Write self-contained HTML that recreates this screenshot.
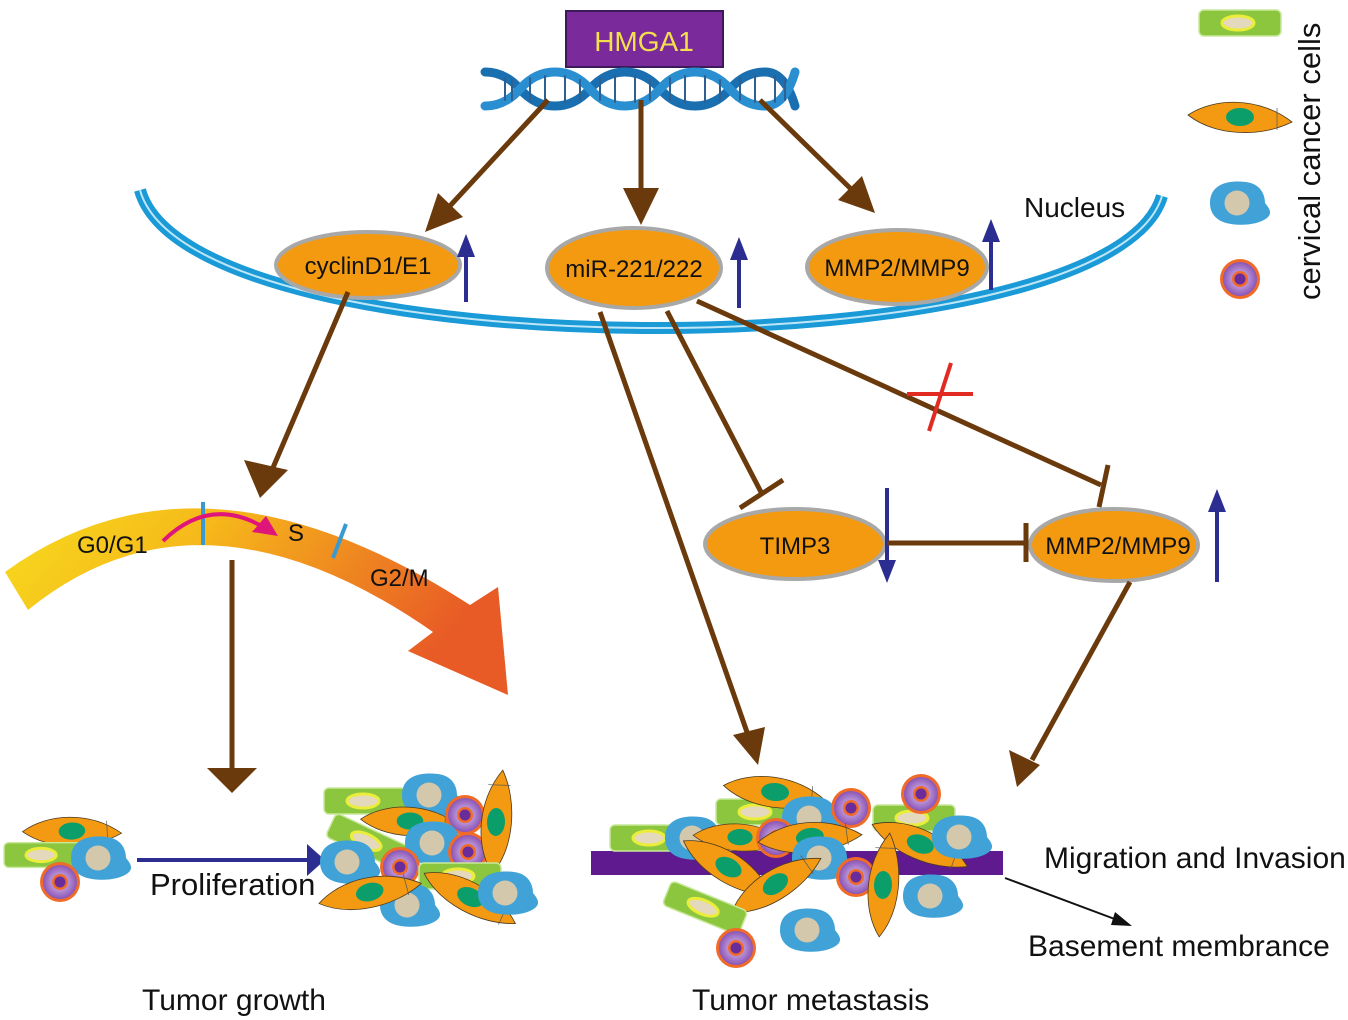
<!DOCTYPE html>
<html><head><meta charset="utf-8"><style>
html,body{margin:0;padding:0;background:#fff;}
svg{display:block;}
text{font-family:"Liberation Sans",Arial,sans-serif;}
</style></head><body>
<svg width="1348" height="1020" viewBox="0 0 1348 1020" xmlns="http://www.w3.org/2000/svg">
<defs>
<linearGradient id="cyc" x1="0" y1="0" x2="1" y2="0.3">
<stop offset="0" stop-color="#f7dc1e"/><stop offset="0.4" stop-color="#f6b81a"/><stop offset="1" stop-color="#e85a26"/>
</linearGradient>
<radialGradient id="pg"><stop offset="0.3" stop-color="#c9a6e0"/><stop offset="1" stop-color="#8a55b6"/></radialGradient>
<g id="gr"><rect x="-41" y="-13" width="82" height="26" rx="5" fill="#8cc63f" stroke="#c8e89a" stroke-width="1.5"/><ellipse cx="-2" cy="0" rx="16" ry="7" fill="#e4d9bd" stroke="#eaee3a" stroke-width="3"/></g>
<g id="sp"><path d="M-52,-3 C-25,-21 20,-21 52,4 C20,20 -25,18 -52,-3 Z" fill="#f39a12" stroke="#4a3a20" stroke-width="0.8"/><ellipse cx="0" cy="-1" rx="14" ry="9" fill="#0c9e6a"/><line x1="37" y1="-10" x2="37" y2="12" stroke="#555" stroke-width="0.7"/></g>
<g id="bl"><path d="M-30,0 C-30,-20 -10,-23 6,-21 C21,-19 25,-8 25,0 C29,5 33,10 27,15 C19,21 5,23 -9,21 C-23,19 -30,11 -30,0 Z" fill="#40a2d6"/><circle cx="-3" cy="0" r="12.5" fill="#d4c8ac"/></g>
<g id="pu"><circle r="20" fill="#f06a28"/><circle r="17" fill="url(#pg)"/><circle r="8" fill="#f06a28"/><circle r="5.5" fill="#6a2c9a"/></g>
</defs>

<!-- HMGA1 -->
<rect x="566" y="11" width="157" height="56" fill="#7b2a9b" stroke="#3c1a5a" stroke-width="2"/>
<text x="644" y="51" font-size="28" fill="#f3e04c" text-anchor="middle">HMGA1</text>

<!-- DNA -->
<g fill="none" stroke-linecap="round">
<path d="M485,72 Q505,72 520,89 T555,106 T590,89 T625,72 T660,89 T695,106 T730,89 T765,72 T795,106" stroke="#1a6fb0" stroke-width="9"/>
<path d="M485,106 Q505,106 520,89 T555,72 T590,89 T625,106 T660,89 T695,72 T730,89 T765,106 T795,72" stroke="#2a8fd0" stroke-width="9"/>
<g stroke="#2f5f90" stroke-width="2">
<path d="M505,78v22M512,80v20M530,78v22M545,76v26M565,76v26M580,80v20M600,78v22M615,76v26M635,76v26M650,80v20M670,78v22M685,76v26M705,76v26M720,80v20M740,78v22M755,76v26M775,76v26M785,80v20"/>
</g>
</g>

<!-- brown arrows from DNA -->
<g stroke="#6b3a0c" stroke-width="5" fill="#6b3a0c">
<line x1="548" y1="100" x2="448" y2="208"/>
<polygon points="425,232 438,193 463,217" stroke="none"/>
<line x1="641" y1="100" x2="641" y2="195"/>
<polygon points="641,225 623,188 659,188" stroke="none"/>
<line x1="760" y1="100" x2="852" y2="190"/>
<polygon points="875,213 838,200 862,176" stroke="none"/>
</g>

<!-- nucleus -->
<path d="M140,190 C190,373 1110,373 1162,196" fill="none" stroke="#1a9ad6" stroke-width="12"/>
<path d="M140,190 C190,373 1110,373 1162,196" fill="none" stroke="#bfe6f6" stroke-width="2"/>
<text x="1024" y="217" font-size="28" fill="#111">Nucleus</text>

<!-- ellipses -->
<g fill="#f39a10" stroke="#a8a8a8" stroke-width="4">
<ellipse cx="368" cy="265" rx="92" ry="33"/>
<ellipse cx="634" cy="268" rx="87" ry="40"/>
<ellipse cx="897" cy="267" rx="90" ry="37"/>
<ellipse cx="795" cy="544" rx="90" ry="35"/>
<ellipse cx="1114" cy="545" rx="84" ry="36"/>
</g>
<g font-size="24" fill="#111" text-anchor="middle">
<text x="368" y="274">cyclinD1/E1</text>
<text x="634" y="277">miR-221/222</text>
<text x="897" y="276">MMP2/MMP9</text>
<text x="795" y="554">TIMP3</text>
<text x="1118" y="554">MMP2/MMP9</text>
</g>

<!-- navy arrows -->
<g stroke="#2b2d90" stroke-width="4" fill="#2b2d90">
<line x1="466" y1="302" x2="466" y2="255"/><polygon points="466,234 457,257 475,257" stroke="none"/>
<line x1="739" y1="308" x2="739" y2="258"/><polygon points="739,237 730,260 748,260" stroke="none"/>
<line x1="991" y1="290" x2="991" y2="240"/><polygon points="991,219 982,242 1000,242" stroke="none"/>
<line x1="887" y1="488" x2="887" y2="562"/><polygon points="887,583 878,560 896,560" stroke="none"/>
<line x1="1217" y1="582" x2="1217" y2="510"/><polygon points="1217,489 1208,512 1226,512" stroke="none"/>
</g>

<!-- legend -->
<use href="#gr" transform="translate(1240,23)"/>
<use href="#sp" transform="translate(1240,118)"/>
<use href="#bl" transform="translate(1240,203)"/>
<use href="#pu" transform="translate(1240,279)"/>
<text transform="translate(1320,300) rotate(-90)" font-size="31" fill="#111">cervical cancer cells</text>

<!-- cyclin -> cell cycle -->
<g stroke="#6b3a0c" stroke-width="5" fill="#6b3a0c">
<line x1="348" y1="292" x2="272" y2="470"/>
<polygon points="260,498 244,460 288,470" stroke="none"/>
<line x1="232" y1="560" x2="232" y2="770"/>
<polygon points="232,793 207,768 257,768" stroke="none"/>
</g>

<!-- cell cycle band -->
<path d="M5,572 Q200,430 470,605 L498,587 L508,695 L408,651 L433,632 Q200,470 28,610 Z" fill="url(#cyc)"/>
<line x1="203" y1="502" x2="203" y2="545" stroke="#3a9ad0" stroke-width="4"/>
<line x1="346" y1="524" x2="333" y2="558" stroke="#3a9ad0" stroke-width="4"/>
<path d="M163,541 Q210,495 265,528" fill="none" stroke="#e0157a" stroke-width="4"/>
<polygon points="278,536 252,532 266,516" fill="#e0157a"/>
<g font-size="24" fill="#111">
<text x="77" y="553">G0/G1</text>
<text x="288" y="541">S</text>
<text x="370" y="586">G2/M</text>
</g>

<!-- miR lines -->
<g stroke="#6b3a0c" stroke-width="5" fill="#6b3a0c">
<line x1="600" y1="312" x2="748" y2="735"/>
<polygon points="758,765 733,735 765,727" stroke="none"/>
<line x1="667" y1="311" x2="762" y2="494"/>
<line x1="740" y1="508" x2="783" y2="480"/>
<line x1="697" y1="301" x2="1101" y2="485"/>
<line x1="1108" y1="465" x2="1099" y2="507"/>
<line x1="887" y1="543" x2="1026" y2="543"/>
<line x1="1026" y1="523" x2="1026" y2="562"/>
<line x1="1130" y1="582" x2="1032" y2="760"/>
<polygon points="1017,787 1009,750 1040,765" stroke="none"/>
</g>
<g stroke="#e02a22" stroke-width="4">
<line x1="907" y1="394" x2="973" y2="394"/>
<line x1="951" y1="363" x2="929" y2="431"/>
</g>

<!-- tumor growth cells -->
<use href="#sp" transform="translate(72,832) rotate(-3) scale(0.95)"/>
<use href="#gr" transform="translate(43,855) scale(0.95)"/>
<use href="#bl" transform="translate(101,858)"/>
<use href="#pu" transform="translate(60,882)"/>
<g stroke="#2b2d90" stroke-width="4" fill="#2b2d90">
<line x1="137" y1="860" x2="310" y2="860"/>
<polygon points="325,860 307,844 307,876" stroke="none"/>
</g>
<text x="150" y="895" font-size="31" fill="#111">Proliferation</text>

<use href="#gr" transform="translate(365,801)"/>
<use href="#bl" transform="translate(432,795)"/>
<use href="#sp" transform="translate(410,822) scale(0.95)"/>
<use href="#gr" transform="translate(368,842) rotate(25)"/>
<use href="#pu" transform="translate(465,815)"/>
<use href="#bl" transform="translate(435,843)"/>
<use href="#pu" transform="translate(468,852)"/>
<use href="#sp" transform="translate(497,822) rotate(-88)"/>
<use href="#bl" transform="translate(350,862)"/>
<use href="#pu" transform="translate(400,867)"/>
<use href="#gr" transform="translate(460,876)"/>
<use href="#bl" transform="translate(410,905)"/>
<use href="#sp" transform="translate(370,893) rotate(-15)"/>
<use href="#sp" transform="translate(470,898) rotate(25)"/>
<use href="#bl" transform="translate(508,893)"/>
<text x="142" y="1010" font-size="30" fill="#111">Tumor growth</text>

<!-- metastasis -->
<rect x="591" y="851" width="412" height="24" fill="#5e1a8e"/>
<use href="#gr" transform="translate(651,838)"/>
<use href="#gr" transform="translate(757,812)"/>
<use href="#gr" transform="translate(914,818)"/>
<use href="#sp" transform="translate(775,793) rotate(5)"/>
<use href="#bl" transform="translate(812,818)"/>
<use href="#pu" transform="translate(851,808)"/>
<use href="#pu" transform="translate(921,794)"/>
<use href="#bl" transform="translate(695,838)"/>
<use href="#sp" transform="translate(740,838) scale(0.9)"/>
<use href="#pu" transform="translate(776,838)"/>
<use href="#sp" transform="translate(810,838) rotate(-8)"/>
<use href="#sp" transform="translate(920,845) rotate(20)"/>
<use href="#bl" transform="translate(962,837)"/>
<use href="#bl" transform="translate(822,858)"/>
<use href="#sp" transform="translate(728,868) rotate(28)"/>
<use href="#pu" transform="translate(856,877)"/>
<use href="#sp" transform="translate(884,885) rotate(-88)"/>
<use href="#sp" transform="translate(776,885) rotate(-35)"/>
<use href="#gr" transform="translate(705,908) rotate(22)"/>
<use href="#bl" transform="translate(810,930)"/>
<use href="#bl" transform="translate(933,896)"/>
<use href="#pu" transform="translate(736,948)"/>
<text x="692" y="1010" font-size="30" fill="#111">Tumor metastasis</text>

<g stroke="#111" stroke-width="2" fill="#111">
<line x1="1005" y1="878" x2="1120" y2="921"/>
<polygon points="1132,926 1115,912 1111,925" stroke="none"/>
</g>
<text x="1044" y="868" font-size="30" fill="#111">Migration and Invasion</text>
<text x="1028" y="956" font-size="30" fill="#111">Basement membrance</text>
</svg>
</body></html>
